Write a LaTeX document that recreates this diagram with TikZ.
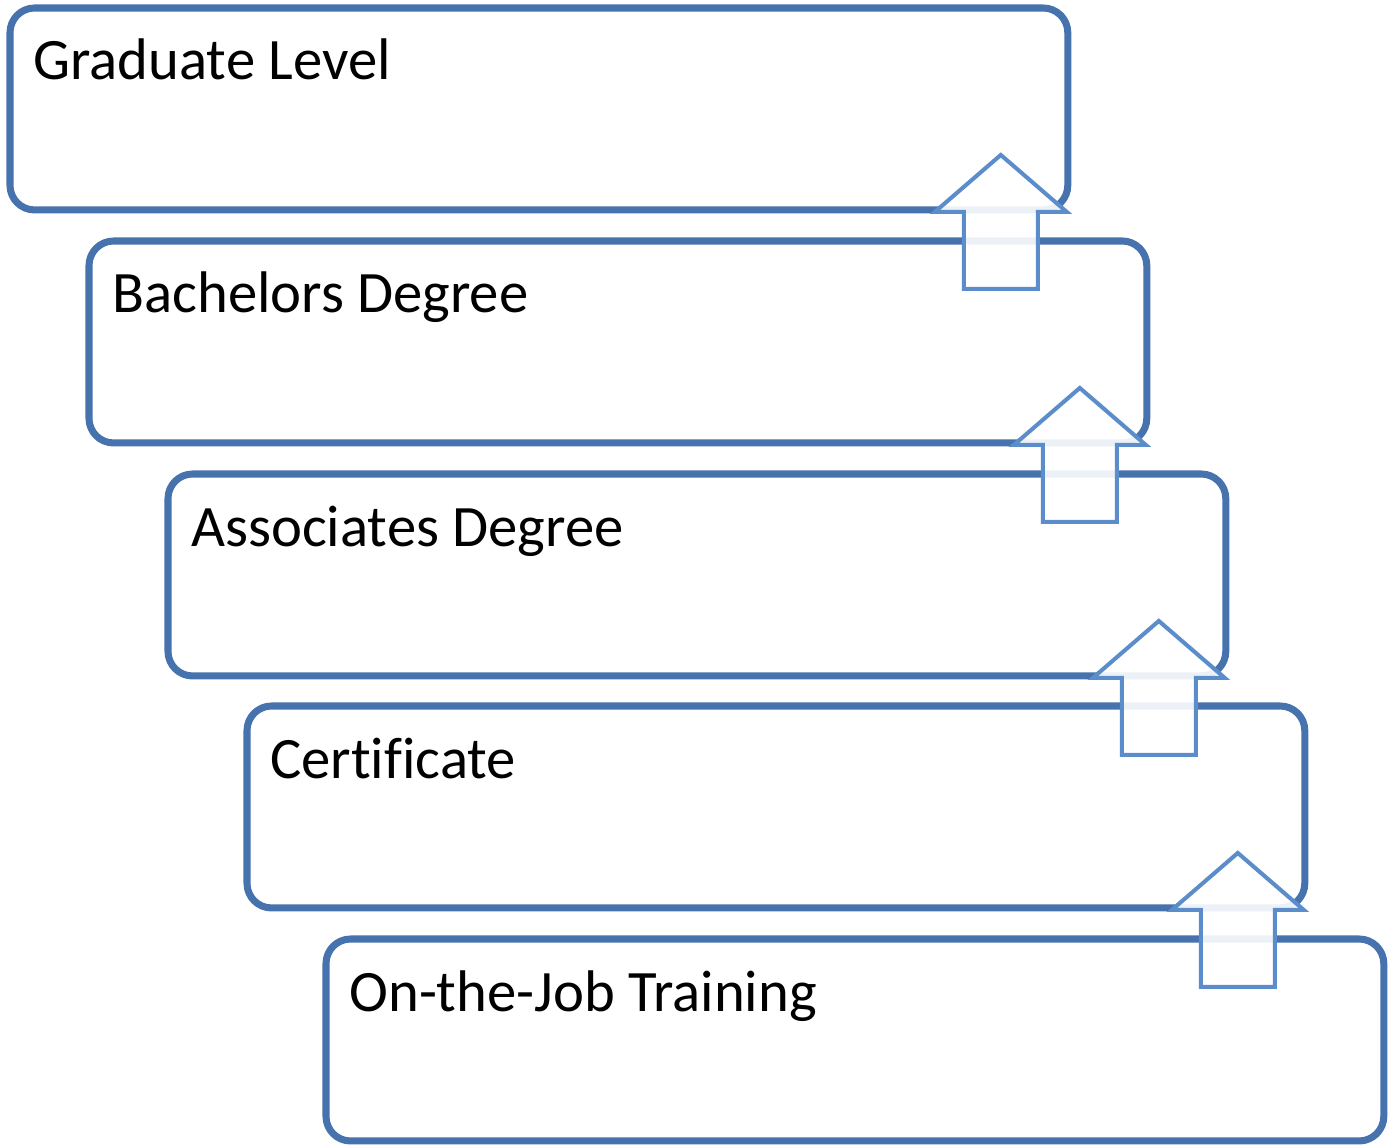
\documentclass[tikz,border=0pt]{standalone}
\usepackage{fontspec}
\setmainfont[Ligatures=NoCommon]{Carlito}
\usetikzlibrary{shadows}
\definecolor{boxblue}{RGB}{70,114,174}
\definecolor{arrowblue}{RGB}{91,141,203}
\tikzset{
	levelbox/.style={draw=boxblue, line width=4pt, rounded corners=14pt, fill=white,
		minimum width=21.16cm, minimum height=4.04cm, inner sep=0pt, outer sep=0pt,
		anchor=north west, drop shadow={shadow xshift=1.2pt, shadow yshift=-1.2pt, opacity=0.2}},
	leveltext/.style={anchor=base west, inner sep=0pt, font=\fontsize{33.4}{38}\selectfont},
	uparrow/.style={draw=arrowblue, line width=2.3pt, fill=white, fill opacity=0.9, miter limit=10}
}
\begin{document}
\begin{tikzpicture}[x=0.02cm, y=-0.02cm]
	\useasboundingbox (0,0) rectangle (1389,1145);

	\node[levelbox] (grad) at (10, 8) {};
	\node[levelbox] (bach) at (89, 241) {};
	\node[levelbox] (assoc) at (168, 474) {};
	\node[levelbox] (cert) at (247, 706) {};
	\node[levelbox] (job) at (326, 939) {};

	\node[leveltext] (gradtext) at ([shift={(23,72)}]grad.north west) {Graduate Level};
	\node[leveltext] (bachtext) at ([shift={(23,72)}]bach.north west) {Bachelors Degree};
	\node[leveltext] (assoctext) at ([shift={(23,72)}]assoc.north west) {Associates Degree};
	\node[leveltext] (certtext) at ([shift={(23,72)}]cert.north west) {Certificate};
	\node[leveltext] (jobtext) at ([shift={(23,72)}]job.north west) {On-the-Job Training};

	% block arrows pointing up to the next level
	\foreach \lvl in {grad, bach, assoc, cert} {
		\coordinate (\lvl-tip) at ([shift={(-67,-55)}]\lvl.south east);
		\draw[uparrow] (\lvl-tip) -- ++(66,57) -- ++(-29,0) -- ++(0,77) -- ++(-74,0)
			-- ++(0,-77) -- ++(-29,0) -- cycle;
	}
\end{tikzpicture}
\end{document}
